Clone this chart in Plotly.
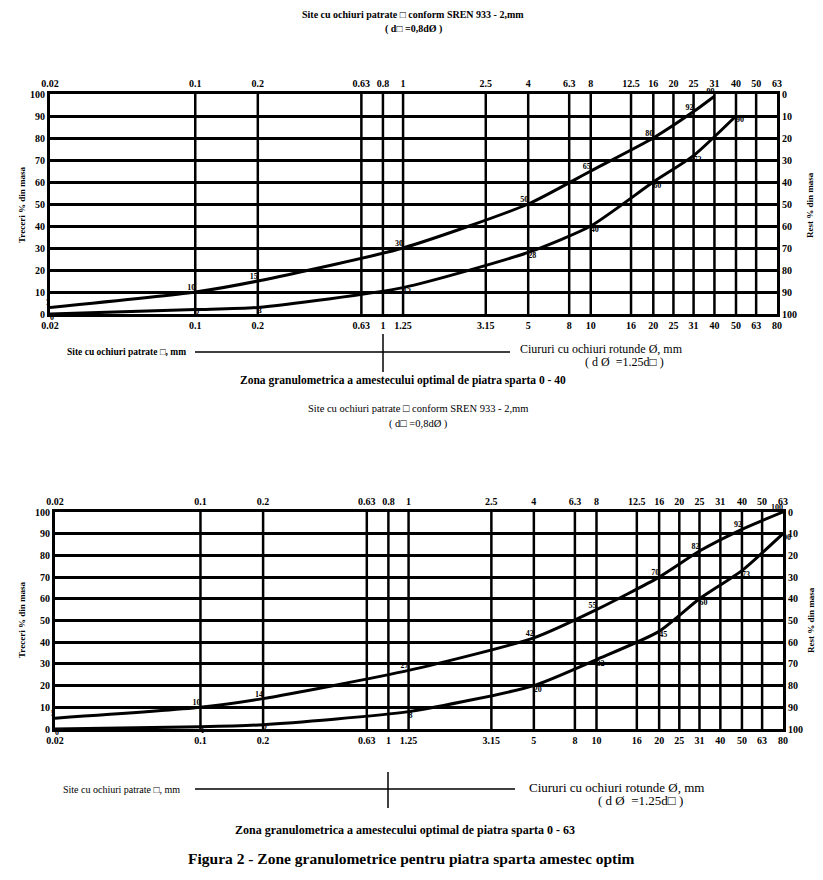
import plotly.graph_objects as go
import math

# page body margin in the viewer shifts the figure by 8 px; compensate
OFF = 8
W, H = 823 - OFF, 880 - OFF

# ---- axis data ----
sq_ticks = [0.02, 0.1, 0.2, 0.63, 0.8, 1, 2.5, 4, 6.3, 8, 12.5, 16, 20, 25, 31.5, 40, 50, 63]
top_labels = ["0.02", "0.1", "0.2", "0.63", "0.8", "1", "2.5", "4", "6.3", "8", "12.5", "16", "20", "25", "31", "40", "50", "63"]
bottom_labels = ["0.02", "0.1", "0.2", "0.63", "1", "1.25", "3.15", "5", "8", "10", "16", "20", "25", "31", "40", "50", "63", "80"]
y_ticks = [0, 10, 20, 30, 40, 50, 60, 70, 80, 90, 100]
left_labels = ["0", "10", "20", "30", "40", "50", "60", "70", "80", "90", "100"]
right_labels = ["100", "90", "80", "70", "60", "50", "40", "30", "20", "10", "0"]

# ---- chart 1 (0 - 40) ----
c1_up_sieve = [0.02, 0.1, 0.2, 1, 4, 8, 16, 25, 31.5]
c1_up = [3, 10, 15, 30, 50, 65, 80, 92, 99]
c1_lo_sieve = [0.02, 0.1, 0.2, 1, 4, 8, 16, 25, 40]
c1_lo = [0, 2, 3, 12, 28, 40, 60, 72, 90]

# ---- chart 2 (0 - 63) ----
c2_up_sieve = [0.02, 0.1, 0.2, 1, 4, 8, 16, 25, 40, 63]
c2_up = [5, 10, 14, 27, 42, 55, 70, 82, 92, 100]
c2_lo_sieve = [0.02, 0.1, 0.2, 1, 4, 8, 16, 25, 40, 63]
c2_lo = [0, 1, 2, 8, 20, 32, 45, 60, 73, 90]

FONT = "Liberation Serif"

def px(x):
    return (x - OFF) / W

def py(y):
    return 1 - (y - OFF) / H

fig = go.Figure()

xr = [math.log10(0.02), math.log10(63)]
grid_vals = sq_ticks[1:-1]

def add_chart(idx, xdom, ydom, up_s, up, lo_s, lo):
    bx = "x" if idx == 1 else "x3"
    tx = "x2" if idx == 1 else "x4"
    ly = "y" if idx == 1 else "y3"
    ry = "y2" if idx == 1 else "y4"
    for s, v, pos in [(up_s, up, "top left"), (lo_s, lo, "bottom right")]:
        fig.add_trace(go.Scatter(
            x=s, y=v, mode="lines+text", xaxis=bx, yaxis=ly,
            line=dict(color="black", width=3, shape="spline", smoothing=0.6),
            text=[str(t) for t in v], textposition=pos,
            textfont=dict(family=FONT, size=8, color="#000000", weight="bold"),
            showlegend=False, hoverinfo="skip", cliponaxis=False))
    fig.add_trace(go.Scatter(x=[0.02], y=[0], xaxis=tx, yaxis=ry, mode="markers",
                             marker=dict(opacity=0), showlegend=False, hoverinfo="skip"))
    tickfont = dict(family=FONT, size=10, color="black", weight="bold")
    bx_key = "xaxis" if idx == 1 else "xaxis3"
    tx_key = "xaxis2" if idx == 1 else "xaxis4"
    ly_key = "yaxis" if idx == 1 else "yaxis3"
    ry_key = "yaxis2" if idx == 1 else "yaxis4"
    fig.layout[bx_key] = dict(
        type="log", range=xr, domain=xdom, anchor=ly, automargin=False,
        tickmode="array", tickvals=sq_ticks, ticktext=bottom_labels,
        tickfont=tickfont, ticks="", showgrid=False, zeroline=False,
        showline=True, linecolor="black", linewidth=3, mirror=False)
    fig.layout[tx_key] = dict(
        type="log", range=xr, domain=xdom, anchor=ry, overlaying=bx, side="top",
        automargin=False,
        tickmode="array", tickvals=sq_ticks, ticktext=top_labels,
        tickfont=tickfont, ticks="", showgrid=False, zeroline=False,
        showline=True, linecolor="black", linewidth=3)
    fig.layout[ly_key] = dict(
        range=[0, 100], domain=ydom, anchor=bx, automargin=False,
        tickmode="array", tickvals=y_ticks, ticktext=left_labels,
        tickfont=tickfont, ticks="", showgrid=True, gridcolor="black", gridwidth=2.5,
        zeroline=False, showline=True, linecolor="black", linewidth=3)
    fig.layout[ry_key] = dict(
        range=[0, 100], domain=ydom, anchor=tx, overlaying=ly, side="right",
        automargin=False,
        tickmode="array", tickvals=y_ticks, ticktext=right_labels,
        tickfont=tickfont, ticks="", showgrid=False, zeroline=False,
        showline=True, linecolor="black", linewidth=3)
    for g in grid_vals:
        fig.add_shape(type="line", xref=bx, yref=ly, x0=g, x1=g, y0=0, y1=100,
                      line=dict(color="black", width=2.5), layer="below")

add_chart(1, [px(50), px(777)], [py(314), py(94)], c1_up_sieve, c1_up, c1_lo_sieve, c1_lo)
add_chart(2, [px(55), px(783)], [py(729), py(512)], c2_up_sieve, c2_up, c2_lo_sieve, c2_lo)

ann = []
def text(x, y, s, size=10, bold=False, angle=0, xanchor="center"):
    ann.append(dict(x=px(x), y=py(y), xref="paper", yref="paper", text=s, showarrow=False,
                    xanchor=xanchor, yanchor="middle", textangle=angle,
                    font=dict(family=FONT, size=size, color="black",
                              weight="bold" if bold else "normal")))

text(413, 15, "Site cu ochiuri patrate □ conform SREN 933 - 2,mm", 10, True)
text(413, 29, "( d□ =0,8dØ )", 10, True)
text(22, 205, "Treceri % din masa", 9, True, -90)
text(810, 205, "Rest % din masa", 9, True, -90)
text(188, 352, "Site cu ochiuri patrate □, mm", 9.5, True, xanchor="right")
text(518, 349, "Ciururi cu ochiuri rotunde Ø, mm", 12, False, xanchor="left")
text(624, 362, "( d Ø  =1.25d□ )", 12, False)
text(403, 381, "Zona granulometrica a amestecului optimal de piatra sparta 0 - 40", 11.5, True)

text(418, 408, "Site cu ochiuri patrate □ conform SREN 933 - 2,mm", 10.5)
text(418, 424, "( d□ =0,8dØ )", 10.5)
text(22, 620, "Treceri % din masa", 9, True, -90)
text(811, 620, "Rest % din masa", 9, True, -90)
text(182, 789, "Site cu ochiuri patrate □, mm", 10, xanchor="right")
text(527, 787, "Ciururi cu ochiuri rotunde Ø, mm", 13, xanchor="left")
text(640, 800, "( d Ø  =1.25d□ )", 13)
text(405, 830, "Zona granulometrica a amestecului optimal de piatra sparta 0 - 63", 12, True)
text(411, 858, "Figura 2 - Zone granulometrice pentru piatra sparta amestec optim", 15.5, True)

fig.update_layout(annotations=ann)

for (x0, x1, y, xv, yv0, yv1) in [(195, 510, 352, 383, 334, 372), (195, 515, 789, 388, 772, 808)]:
    fig.add_shape(type="line", xref="paper", yref="paper", x0=px(x0), x1=px(x1),
                  y0=py(y), y1=py(y), line=dict(color="black", width=1.5))
    fig.add_shape(type="line", xref="paper", yref="paper", x0=px(xv), x1=px(xv),
                  y0=py(yv0), y1=py(yv1), line=dict(color="black", width=1.5))

fig.update_layout(width=W, height=H, margin=dict(l=0, r=0, t=0, b=0, pad=0, autoexpand=False),
                  paper_bgcolor="white", plot_bgcolor="white")

fig.write_html("out.html")
